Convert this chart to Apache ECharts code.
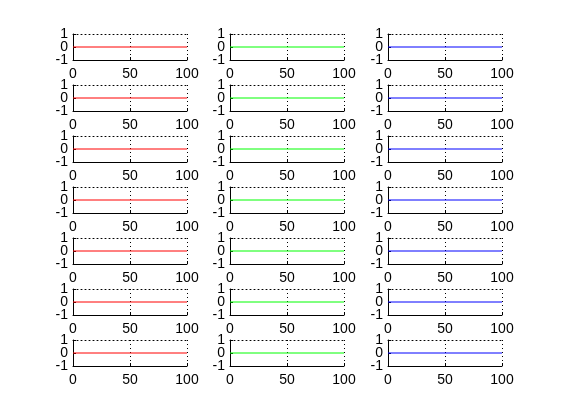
<!DOCTYPE html>
<html><head><meta charset="utf-8">
<script src="https://cdn.jsdelivr.net/npm/echarts@6/dist/echarts.min.js"></script>
<style>html,body{margin:0;padding:0;background:#fff}#c{width:561px;height:420px}</style>
</head><body><div id="c"></div>
<script>
// Data
const xValues = [0, 100];
const col1Values = [0, 0]; // red
const col2Values = [0, 0]; // green
const col3Values = [0, 0]; // blue
const columnValues = [col1Values, col2Values, col3Values];
const columnColors = ['#ff0000', '#00ff00', '#0000ff'];
const xTicks = [0, 50, 100];
const yTicks = ['-1', '0', '1'];
const nRows = 7;

// Layout
const colLeft = [73, 230, 388];
const plotW = 114;
const rowTop0 = 34, rowStep = 51, plotH = 26;

const grids = [], xAxes = [], yAxes = [], series = [];
const font = {color: '#000', fontFamily: 'Liberation Sans, Arial, sans-serif', fontSize: 14};
let k = 0;
for (let r = 0; r < nRows; r++) {
  for (let c = 0; c < 3; c++) {
    grids.push({left: colLeft[c], top: rowTop0 + r * rowStep, width: plotW, height: plotH, containLabel: false});
    // bottom x axis
    xAxes.push({
      gridIndex: k, type: 'value', position: 'bottom',
      min: xTicks[0], max: xTicks[xTicks.length - 1], interval: 50,
      axisLine: {show: true, onZero: false, lineStyle: {color: '#000', width: 1}},
      axisTick: {show: true, inside: true, length: 3, lineStyle: {color: '#000'}},
      splitLine: {show: true, lineStyle: {color: '#000', type: [1, 3], width: 1}},
      axisLabel: Object.assign({}, font, {margin: 7, showMinLabel: true, showMaxLabel: true})
    });
    // top dotted frame line (y = 1)
    xAxes.push({
      gridIndex: k, type: 'value', position: 'top',
      min: xTicks[0], max: xTicks[xTicks.length - 1], interval: 50,
      axisLine: {show: true, onZero: false, lineStyle: {color: '#000', width: 1, type: [1, 3]}},
      axisTick: {show: false}, splitLine: {show: false}, axisLabel: {show: false}
    });
    yAxes.push({
      gridIndex: k, type: 'category', data: yTicks, boundaryGap: false,
      axisLine: {show: true, onZero: false, lineStyle: {color: '#000', width: 1}},
      axisTick: {show: true, inside: true, length: 3, interval: 0, lineStyle: {color: '#000'}},
      splitLine: {show: false},
      axisLabel: Object.assign({}, font, {margin: 5, interval: 0})
    });
    series.push({
      type: 'line', xAxisIndex: 2 * k, yAxisIndex: k, symbol: 'none', animation: false,
      lineStyle: {color: columnColors[c], width: 1},
      data: xValues.map((x, i) => [x, String(columnValues[c][i])])
    });
    k++;
  }
}

const chart = echarts.init(document.getElementById('c'), null, {renderer: 'canvas'});
chart.setOption({
  backgroundColor: '#fff',
  animation: false,
  grid: grids, xAxis: xAxes, yAxis: yAxes, series: series
});
</script></body></html>
